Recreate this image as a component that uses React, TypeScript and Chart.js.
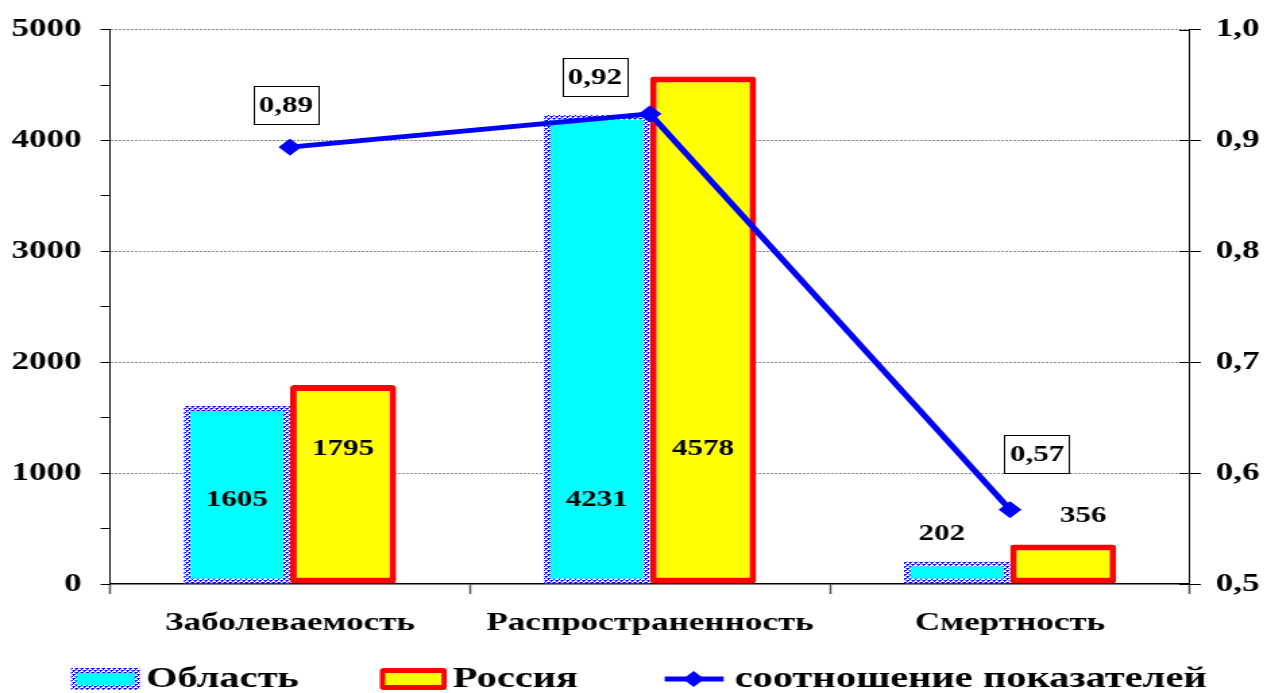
import React, { useEffect, useRef } from 'react';
import { Chart, registerables } from 'chart.js';

Chart.register(...registerables);

const categories = ['Заболеваемость', 'Распространенность', 'Смертность'];
const seriesNames = ['Область', 'Россия', 'соотношение показателей'];
const oblastValues = [1605, 4231, 202];
const russiaValues = [1795, 4578, 356];
const ratioValues = [0.894, 0.924, 0.567];
const ratioLabels = ['0,89', '0,92', '0,57'];
const leftMin = 0;
const leftMax = 5000;
const leftMajor = 1000;
const leftMinor = 500;
const rightMin = 0.5;
const rightMax = 1.0;
const rightStep = 0.1;

const W = 1267;
const H = 693;
const SX = 1.35; // horizontal stretch of the original picture
const CW = Math.round(W / SX);
const FONT = "'Liberation Serif', 'Times New Roman', serif";

function makePattern(): CanvasPattern | string {
  const c = document.createElement('canvas');
  c.width = 4;
  c.height = 4;
  const g = c.getContext('2d');
  if (!g) return '#0000ff';
  g.fillStyle = '#ffffff';
  g.fillRect(0, 0, 4, 4);
  g.fillStyle = '#0000ff';
  g.fillRect(0, 0, 2, 1);
  g.fillRect(2, 2, 2, 1);
  g.fillRect(0, 1, 1, 1);
  g.fillRect(2, 3, 1, 1);
  g.fillStyle = '#7070ff';
  g.fillRect(3, 0, 1, 1);
  g.fillRect(1, 2, 1, 1);
  const p = g.createPattern(c, 'repeat');
  return p || '#0000ff';
}

export default function App() {
  const ref = useRef<HTMLCanvasElement | null>(null);

  useEffect(() => {
    const canvas = ref.current;
    if (!canvas) return;
    const pattern = makePattern();

    const decorPlugin = {
      id: 'decor',
      afterDatasetsDraw(chart: any) {
        const ctx = chart.ctx as CanvasRenderingContext2D;
        const yL = chart.scales.y;
        const area = chart.chartArea;
        ctx.save();
        // bar value labels
        ctx.font = `bold 23px ${FONT}`;
        ctx.fillStyle = '#000';
        ctx.textAlign = 'center';
        ctx.textBaseline = 'middle';
        const insideValue = [760, 1220];
        const outsideShift = [-15, 20];
        [0, 1].forEach((di) => {
          const meta = chart.getDatasetMeta(di);
          const vals = di === 0 ? oblastValues : russiaValues;
          meta.data.forEach((el: any, i: number) => {
            const v = vals[i];
            if (v > 1000) {
              ctx.fillText(String(v), el.x, yL.getPixelForValue(insideValue[di]));
            } else {
              ctx.fillText(String(v), el.x + outsideShift[di] / SX, el.y - 28);
            }
          });
        });
        // right axis inner tick parts
        const y1 = chart.scales.y1;
        ctx.strokeStyle = '#000';
        ctx.lineWidth = 1;
        y1.ticks.forEach((t: any) => {
          const y = Math.round(y1.getPixelForValue(t.value)) + 0.5;
          ctx.beginPath();
          ctx.moveTo(area.right - 8, y);
          ctx.lineTo(area.right, y);
          ctx.stroke();
        });
        ctx.restore();
      },
      afterDraw(chart: any) {
        const ctx = chart.ctx as CanvasRenderingContext2D;
        ctx.save();
        // ratio labels in boxes
        const lineMeta = chart.getDatasetMeta(2);
        const offs = [[-4, -42], [-55, -37], [27, -56]];
        ctx.font = `bold 23px ${FONT}`;
        ctx.textAlign = 'center';
        ctx.textBaseline = 'middle';
        lineMeta.data.forEach((el: any, i: number) => {
          const cx = el.x + offs[i][0] / SX;
          const cy = el.y + offs[i][1];
          const tw = ctx.measureText(ratioLabels[i]).width;
          const bw = tw + 8;
          const bh = 38;
          ctx.fillStyle = '#fff';
          ctx.fillRect(cx - bw / 2, cy - bh / 2, bw, bh);
          ctx.strokeStyle = '#000';
          ctx.lineWidth = 1;
          ctx.strokeRect(Math.round(cx - bw / 2) + 0.5, Math.round(cy - bh / 2) + 0.5, Math.round(bw), bh);
          ctx.fillStyle = '#000';
          ctx.fillText(ratioLabels[i], cx, cy + 1);
        });

        // legend
        const ly = 679;
        ctx.font = `bold 30px ${FONT}`;
        ctx.textAlign = 'left';
        ctx.textBaseline = 'middle';
        // Область
        let x0 = 71 / SX;
        let x1 = 140 / SX;
        ctx.fillStyle = pattern as any;
        ctx.fillRect(x0, ly - 11, x1 - x0, 22);
        ctx.fillStyle = '#00ffff';
        ctx.fillRect(x0 + 4, ly - 6, x1 - x0 - 8, 12);
        ctx.fillStyle = '#000';
        ctx.fillText(seriesNames[0], 146 / SX, ly);
        // Россия
        x0 = 380 / SX;
        x1 = 447 / SX;
        ctx.fillStyle = '#ff0000';
        ctx.beginPath();
        (ctx as any).roundRect(x0, ly - 11, x1 - x0, 22, 3);
        ctx.fill();
        ctx.fillStyle = '#ffff00';
        ctx.fillRect(x0 + 4, ly - 6, x1 - x0 - 8, 12);
        ctx.fillStyle = '#000';
        ctx.fillText(seriesNames[1], 453 / SX, ly);
        // line
        x0 = 665 / SX;
        x1 = 724 / SX;
        ctx.strokeStyle = '#0000ff';
        ctx.lineWidth = 5;
        ctx.beginPath();
        ctx.moveTo(x0, ly);
        ctx.lineTo(x1, ly);
        ctx.stroke();
        const dx = 694 / SX;
        ctx.fillStyle = '#0000ff';
        ctx.beginPath();
        ctx.moveTo(dx - 8, ly);
        ctx.lineTo(dx, ly - 8);
        ctx.lineTo(dx + 8, ly);
        ctx.lineTo(dx, ly + 8);
        ctx.closePath();
        ctx.fill();
        ctx.fillStyle = '#000';
        ctx.fillText(seriesNames[2], 735 / SX, ly);
        ctx.restore();
      },
    };

    const chart = new Chart(canvas, {
      type: 'bar',
      data: {
        labels: categories,
        datasets: [
          {
            label: seriesNames[0],
            data: oblastValues,
            backgroundColor: '#00ffff',
            borderColor: pattern as any,
            borderWidth: 5,
            borderSkipped: false,
            yAxisID: 'y',
            order: 1,
            categoryPercentage: 0.59,
            barPercentage: 1,
          } as any,
          {
            label: seriesNames[1],
            data: russiaValues,
            backgroundColor: '#ffff00',
            borderColor: '#ff0000',
            borderWidth: { left: 5, right: 5, top: 6, bottom: 6 },
            borderRadius: 3,
            borderSkipped: false,
            yAxisID: 'y',
            order: 1,
            categoryPercentage: 0.59,
            barPercentage: 1,
          } as any,
          {
            type: 'line',
            label: seriesNames[2],
            data: ratioValues,
            borderColor: '#0000ff',
            backgroundColor: '#0000ff',
            borderWidth: 5,
            pointStyle: 'rect',
            pointRotation: 45,
            pointRadius: 8,
            pointBorderWidth: 1,
            yAxisID: 'y1',
            order: 0,
            tension: 0,
          } as any,
        ],
      },
      options: {
        responsive: false,
        maintainAspectRatio: false,
        animation: false,
        layout: { padding: { top: 28, left: 0, right: 0, bottom: 0 } },
        plugins: {
          legend: { display: false },
          tooltip: { enabled: false },
        },
        scales: {
          x: {
            afterFit(scale: any) {
              scale.height = H - 584;
            },
            grid: {
              offset: true,
              drawOnChartArea: false,
              tickLength: 10,
              tickColor: '#555',
              tickWidth: 1.5,
            },
            border: { color: '#000', width: 1.5 },
            ticks: {
              color: '#000',
              padding: 14,
              font: { family: FONT, size: 26, weight: 'bold' },
            },
          },
          y: {
            position: 'left',
            min: leftMin,
            max: leftMax,
            afterFit(scale: any) {
              scale.width = 110 / SX;
            },
            grid: {
              color: (c: any) =>
                c.tick && c.tick.value % leftMajor === 0 && c.tick.value !== 0 ? '#8a8a8a' : 'rgba(0,0,0,0)',
              lineWidth: 1,
              tickColor: '#000',
              tickLength: 7,
            },
            border: { color: '#000', width: 1, dash: [2, 1] },
            ticks: {
              stepSize: leftMinor,
              color: '#000',
              padding: 14,
              font: { family: FONT, size: 26, weight: 'bold' },
              callback: (v: any) => (Number(v) % leftMajor === 0 ? String(v) : ''),
            },
          },
          y1: {
            position: 'right',
            min: rightMin,
            max: rightMax,
            afterFit(scale: any) {
              scale.width = (W - 1190) / SX;
            },
            grid: {
              drawOnChartArea: false,
              tickColor: '#000',
              tickLength: 8,
            },
            border: { color: '#000', width: 1 },
            ticks: {
              stepSize: rightStep,
              color: '#000',
              padding: 11,
              font: { family: FONT, size: 26, weight: 'bold' },
              callback: (v: any) => Number(v).toFixed(1).replace('.', ','),
            },
          },
        },
      },
      plugins: [decorPlugin],
    });

    return () => {
      chart.destroy();
    };
  }, []);

  return (
    <div style={{ position: 'fixed', left: 0, top: 0, width: W, height: H, background: '#fff' }}>
      <canvas
        ref={ref}
        width={CW}
        height={H}
        style={{ width: `${W}px`, height: `${H}px`, display: 'block' }}
      />
    </div>
  );
}
